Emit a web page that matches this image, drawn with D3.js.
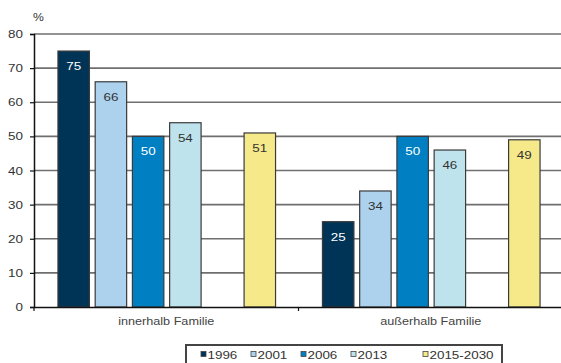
<!DOCTYPE html>
<html><head><meta charset="utf-8">
<script src="https://cdn.jsdelivr.net/npm/d3@7"></script>
<style>
html,body{margin:0;padding:0;background:#fff;}
svg{display:block;font-family:"Liberation Sans",Arial,sans-serif;}
</style></head>
<body><svg id="c" width="561" height="363"></svg>
<script>
const categories = ["innerhalb Familie", "außerhalb Familie"];
const seriesNames = ["1996", "2001", "2006", "2013", "", "2015-2030"];
const values1996 = [75, 25];
const values2001 = [66, 34];
const values2006 = [50, 50];
const values2013 = [54, 46];
const valuesGap = [null, null];
const values2030 = [51, 49];
const yTicks = [0, 10, 20, 30, 40, 50, 60, 70, 80];
const legendNames = ["1996", "2001", "2006", "2013", "2015-2030"];

const seriesValues = [values1996, values2001, values2006, values2013, valuesGap, values2030];
const colors = ["#003456", "#acd2ee", "#0080c3", "#bfe3ec", "#ffffff", "#f6e98a"];
const labelColors = ["#ffffff", "#333333", "#ffffff", "#333333", "#333", "#333333"];
const SX = 1.22; // horizontal stretch of the original's text

const svg = d3.select("#c");
const mLeft = 34, mRight = 563, mTop = 34, mBottom = 307;

const y = d3.scaleLinear().domain([0, 80]).range([mBottom, mTop]);
const x0 = d3.scaleBand().domain(categories).range([mLeft, mRight]).paddingInner(0).paddingOuter(0);
const x1 = d3.scaleBand().domain(d3.range(seriesNames.length)).range([0, x0.bandwidth()])
  .paddingOuter(0.63).paddingInner(0.155);

function stext(parent, x, y, txt, size, fill, anchor) {
  return parent.append("text").attr("transform", `translate(${x},${y}) scale(${SX},1)`)
    .attr("text-anchor", anchor || "start").attr("font-size", size).attr("fill", fill).text(txt);
}

// gridlines
svg.append("g").selectAll("line").data(yTicks.filter(d => d > 0)).join("line")
  .attr("x1", mLeft).attr("x2", 561)
  .attr("y1", d => y(d)).attr("y2", d => y(d))
  .attr("stroke", "#6f6f6f").attr("stroke-width", 1.7);

// bars
categories.forEach((cat, ci) => {
  const g = svg.append("g").attr("transform", `translate(${x0(cat)},0)`);
  seriesValues.forEach((vals, si) => {
    const v = vals[ci];
    if (v == null) return;
    g.append("rect")
      .attr("x", x1(si) + 0.5).attr("y", y(v))
      .attr("width", x1.bandwidth()).attr("height", y(0) - y(v))
      .attr("fill", colors[si]).attr("stroke", "#3a3a3a").attr("stroke-width", 1.2);
    stext(g, x1(si) + 0.5 + x1.bandwidth() / 2, y(v) + 19, v, 11, labelColors[si], "middle");
  });
});

// y axis
const yAxis = d3.axisLeft(y).tickValues(yTicks).tickSize(4).tickPadding(6);
const ya = svg.append("g").attr("transform", `translate(${mLeft},0)`).call(yAxis);
ya.select(".domain").attr("stroke", "#111").attr("stroke-width", 1.5);
ya.selectAll(".tick line").attr("stroke", "#111").attr("stroke-width", 1.2);
ya.selectAll(".tick text").attr("font-size", 11).attr("fill", "#333")
  .attr("font-family", "Liberation Sans, Arial, sans-serif")
  .attr("x", 0).attr("transform", `translate(-11,0) scale(${SX},1)`);

// x axis
const xa = svg.append("g").attr("transform", `translate(0,${mBottom})`)
  .call(d3.axisBottom(x0).tickSize(0).tickPadding(10));
xa.select(".domain").attr("stroke", "#111").attr("stroke-width", 1.5);
xa.selectAll(".tick text").attr("font-size", 11.5).attr("fill", "#444")
  .attr("font-family", "Liberation Sans, Arial, sans-serif")
  .attr("transform", "scale(1.1,1)");
// category boundary ticks
svg.append("g").selectAll("line").data([mLeft, x0(categories[1])]).join("line")
  .attr("x1", d => d).attr("x2", d => d).attr("y1", mBottom).attr("y2", mBottom + 4)
  .attr("stroke", "#111").attr("stroke-width", 1.2);

// % label
stext(svg, 33, 21, "%", 10, "#333", "start");

// legend
const lg = svg.append("g");
lg.append("rect").attr("x", 186).attr("y", 345).attr("width", 316).attr("height", 30)
  .attr("fill", "#fff").attr("stroke", "#444").attr("stroke-width", 2);
const legendX = [201, 251, 301, 351, 423];
const legendColorIdx = [0, 1, 2, 3, 5];
legendNames.forEach((n, i) => {
  lg.append("rect").attr("x", legendX[i]).attr("y", 351.5).attr("width", 5).attr("height", 5)
    .attr("fill", colors[legendColorIdx[i]]).attr("stroke", "#444").attr("stroke-width", 0.8);
  stext(lg, legendX[i] + 6.5, 358.5, n, 11, "#333", "start");
});
</script></body></html>
